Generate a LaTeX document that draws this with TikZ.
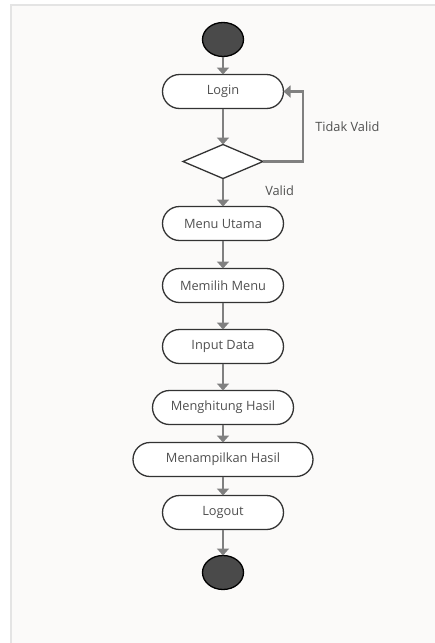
\documentclass[tikz,border=0pt]{standalone}
\usepackage{fontspec}
\setmainfont{Open Sans}
\usepackage{tikz}
\usetikzlibrary{arrows.meta,positioning,shapes.geometric}
\definecolor{cline}{HTML}{333333}
\definecolor{carr}{HTML}{808080}
\definecolor{ctext}{HTML}{505050}
\definecolor{cdot}{HTML}{4A4A4A}
\definecolor{cpage}{HTML}{FBFAF9}
\definecolor{cframe}{HTML}{E4E4E4}
\tikzset{
  act/.style={rectangle, rounded corners=17pt, draw=cline, line width=1.3pt, fill=white,
    align=center, minimum width=121pt, minimum height=34pt, inner sep=3pt, outer sep=0pt,
    font=\fontsize{12.8}{15}\selectfont, text=ctext},
  dec/.style={diamond, aspect=2.35, draw=cline, line width=1.3pt, fill=white,
    minimum width=80pt, minimum height=34pt, inner sep=0pt, outer sep=0pt},
  dot/.style={ellipse, draw=black, line width=1.3pt, fill=cdot,
    minimum width=41pt, minimum height=34pt, inner sep=0pt, outer sep=0pt},
  lbl/.style={font=\fontsize{12.8}{15}\selectfont, text=ctext, inner sep=0pt},
  arr/.style={-{Triangle[length=7pt,width=12pt]}, line width=2.5pt, draw=carr},
}
\begin{document}
\begin{tikzpicture}[x=1pt, y=1pt]
  \useasboundingbox (0,0) rectangle (435,-643);
  \fill[white] (0,0) rectangle (435,-643);
  \draw[cframe, line width=2pt, fill=cpage] (11,-5) rectangle (440,-650);

  \node[dot] (start) at (223,-39.5) {};
  \node[act, below=18pt of start] (login) {Login};
  \node[dec, below=36pt of login] (check) {};
  \node[act, below=28pt of check] (menu) {Menu Utama};
  \node[act, below=28pt of menu] (pilih) {Memilih Menu};
  \node[act, below=27pt of pilih] (input) {Input Data};
  \node[act, below=27pt of input, minimum width=141pt] (hitung) {Menghitung Hasil};
  \node[act, below=18pt of hitung, minimum width=180pt] (tampil) {Menampilkan Hasil};
  \node[act, below=19pt of tampil] (logout) {Logout};
  \node[dot, below=26pt of logout] (stop) {};

  \draw[arr] (start) -- (login);
  \draw[arr] (login) -- (check);
  \draw[arr] (check.east) -- ++(40,0) |- node[lbl, right=11pt, pos=0.25] {Tidak Valid} (login.east);
  \draw[arr] (check) -- node[lbl, anchor=west, xshift=41pt, yshift=2pt] {Valid} (menu);
  \draw[arr] (menu) -- (pilih);
  \draw[arr] (pilih) -- (input);
  \draw[arr] (input) -- (hitung);
  \draw[arr] (hitung) -- (tampil);
  \draw[arr] (tampil) -- (logout);
  \draw[arr] (logout) -- (stop);
\end{tikzpicture}
\end{document}
